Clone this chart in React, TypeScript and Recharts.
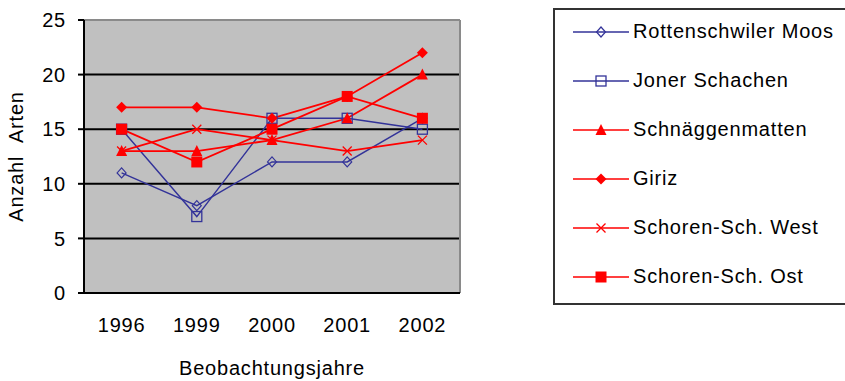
import React from 'react'
import { LineChart, Line, XAxis, YAxis, CartesianGrid, ReferenceLine, Legend } from 'recharts'

const years = ['1996', '1999', '2000', '2001', '2002']
const rottenschwilerMoos = [11, 8, 12, 12, 16]
const jonerSchachen = [15, 7, 16, 16, 15]
const schnaeggenmatten = [13, 13, 14, 16, 20]
const giriz = [17, 17, 16, 18, 22]
const schorenWest = [13, 15, 14, 13, 14]
const schorenOst = [15, 12, 15, 18, 16]
const yTicks = [0, 5, 10, 15, 20, 25]

const BLUE = '#333399'
const RED = '#ff0000'
const FONT = '"Liberation Sans", Arial, sans-serif'

type Shape = 'diamondOpen' | 'squareOpen' | 'triangle' | 'diamond' | 'cross' | 'square'

const series: { key: string; name: string; color: string; shape: Shape; values: number[] }[] = [
  { key: 'rott', name: 'Rottenschwiler Moos', color: BLUE, shape: 'diamondOpen', values: rottenschwilerMoos },
  { key: 'joner', name: 'Joner Schachen', color: BLUE, shape: 'squareOpen', values: jonerSchachen },
  { key: 'schnaegg', name: 'Schnäggenmatten', color: RED, shape: 'triangle', values: schnaeggenmatten },
  { key: 'giriz', name: 'Giriz', color: RED, shape: 'diamond', values: giriz },
  { key: 'west', name: 'Schoren-Sch. West', color: RED, shape: 'cross', values: schorenWest },
  { key: 'ost', name: 'Schoren-Sch. Ost', color: RED, shape: 'square', values: schorenOst },
]

const data = years.map((year, i) => {
  const row: Record<string, number | string> = { year, idx: i + 1 }
  series.forEach((s) => {
    row[s.key] = s.values[i]
  })
  return row
})

function Marker({ shape, color, cx, cy }: { shape: Shape; color: string; cx: number; cy: number }) {
  switch (shape) {
    case 'diamondOpen':
      return <path d={`M${cx},${cy - 5}L${cx + 4.5},${cy}L${cx},${cy + 5}L${cx - 4.5},${cy}Z`} fill="none" stroke={color} strokeWidth={1.2} />
    case 'squareOpen':
      return <rect x={cx - 5} y={cy - 5} width={10} height={10} fill="none" stroke={color} strokeWidth={1.3} />
    case 'triangle':
      return <path d={`M${cx},${cy - 6}L${cx + 5.5},${cy + 5}L${cx - 5.5},${cy + 5}Z`} fill={color} />
    case 'diamond':
      return <path d={`M${cx},${cy - 5.5}L${cx + 5.5},${cy}L${cx},${cy + 5.5}L${cx - 5.5},${cy}Z`} fill={color} />
    case 'cross':
      return (
        <path
          d={`M${cx - 4.5},${cy - 4.5}L${cx + 4.5},${cy + 4.5}M${cx + 4.5},${cy - 4.5}L${cx - 4.5},${cy + 4.5}`}
          stroke={color}
          strokeWidth={1.3}
        />
      )
    default:
      return <rect x={cx - 5.5} y={cy - 5.5} width={11} height={11} fill={color} />
  }
}

// legend keeps the series order instead of the alphabetical payload order;
// the box runs past the right edge, so no right border shows
function LegendBox() {
  return (
    <div
      style={{
        width: 320,
        height: 297,
        border: '2px solid #333',
        boxSizing: 'border-box',
        background: '#fff',
      }}
    >
      <div style={{ marginTop: -3 }}>
        {series.map((s) => (
          <div key={s.key} style={{ display: 'flex', alignItems: 'center', height: 49 }}>
            <svg width={78} height={20} style={{ flex: 'none' }}>
              <line x1={18} y1={10} x2={74} y2={10} stroke={s.color} strokeWidth={1.6} />
              <Marker shape={s.shape} color={s.color} cx={46} cy={10} />
            </svg>
            <span style={{ fontFamily: FONT, fontSize: 20, letterSpacing: 0.8, color: '#000', whiteSpace: 'nowrap' }}>
              {s.name}
            </span>
          </div>
        ))}
      </div>
    </div>
  )
}

export default function App() {
  return (
    <div style={{ position: 'absolute', left: 0, top: 0, width: 845, height: 381, background: '#fff', overflow: 'hidden' }}>
      <LineChart width={845} height={381} data={data} margin={{ top: 20, right: 385, bottom: 0, left: 0 }}>
        <CartesianGrid
          vertical={false}
          horizontalValues={[5, 10, 15, 20]}
          stroke="#000"
          strokeWidth={2}
          fill="#c0c0c0"
          fillOpacity={1}
        />
        <ReferenceLine y={25} stroke="#8a8a8a" strokeWidth={2} />
        <ReferenceLine x={5.5} stroke="#8a8a8a" strokeWidth={2} />
        <XAxis
          dataKey="idx"
          type="number"
          domain={[0.5, 5.5]}
          ticks={[1, 2, 3, 4, 5]}
          tickFormatter={(v: number) => years[v - 1]}
          tickLine={false}
          tickMargin={19}
          axisLine={{ stroke: '#000', strokeWidth: 2 }}
          tick={{ fill: '#000', fontFamily: FONT, fontSize: 20, letterSpacing: 0.8 }}
          height={88}
          label={{
            value: 'Beobachtungsjahre',
            position: 'insideBottom',
            offset: 6,
            style: { fill: '#000', fontFamily: FONT, fontSize: 20, letterSpacing: 0.8 },
          }}
        />
        {/* tick marks sit between the years */}
        <XAxis
          xAxisId="edges"
          type="number"
          domain={[0.5, 5.5]}
          ticks={[0.5, 1.5, 2.5, 3.5, 4.5, 5.5]}
          tick={false}
          tickSize={7}
          tickLine={{ stroke: '#000', strokeWidth: 2 }}
          axisLine={false}
          height={0}
        />
        <YAxis
          type="number"
          domain={[0, 25]}
          ticks={yTicks}
          width={84}
          tickSize={6}
          tickMargin={12}
          tickLine={{ stroke: '#000', strokeWidth: 2 }}
          axisLine={{ stroke: '#000', strokeWidth: 2 }}
          tick={{ fill: '#000', fontFamily: FONT, fontSize: 20, letterSpacing: 0.8 }}
          label={{
            value: 'Anzahl\u00a0\u00a0Arten',
            angle: -90,
            position: 'insideLeft',
            offset: 16,
            style: { textAnchor: 'middle', fill: '#000', fontFamily: FONT, fontSize: 20, letterSpacing: 0.8 },
          }}
        />
        <Legend
          layout="vertical"
          align="center"
          verticalAlign="middle"
          content={<LegendBox />}
          wrapperStyle={{ position: 'absolute', left: 553, top: 8, width: 320 }}
        />
        {series.map((s) => (
          <Line
            key={s.key}
            dataKey={s.key}
            name={s.name}
            type="linear"
            stroke={s.color}
            strokeWidth={s.color === RED ? 1.8 : 1.4}
            isAnimationActive={false}
            dot={(p: any) => <Marker key={`${s.key}-${p.index}`} shape={s.shape} color={s.color} cx={p.cx} cy={p.cy} />}
            activeDot={false}
          />
        ))}
      </LineChart>
    </div>
  )
}
